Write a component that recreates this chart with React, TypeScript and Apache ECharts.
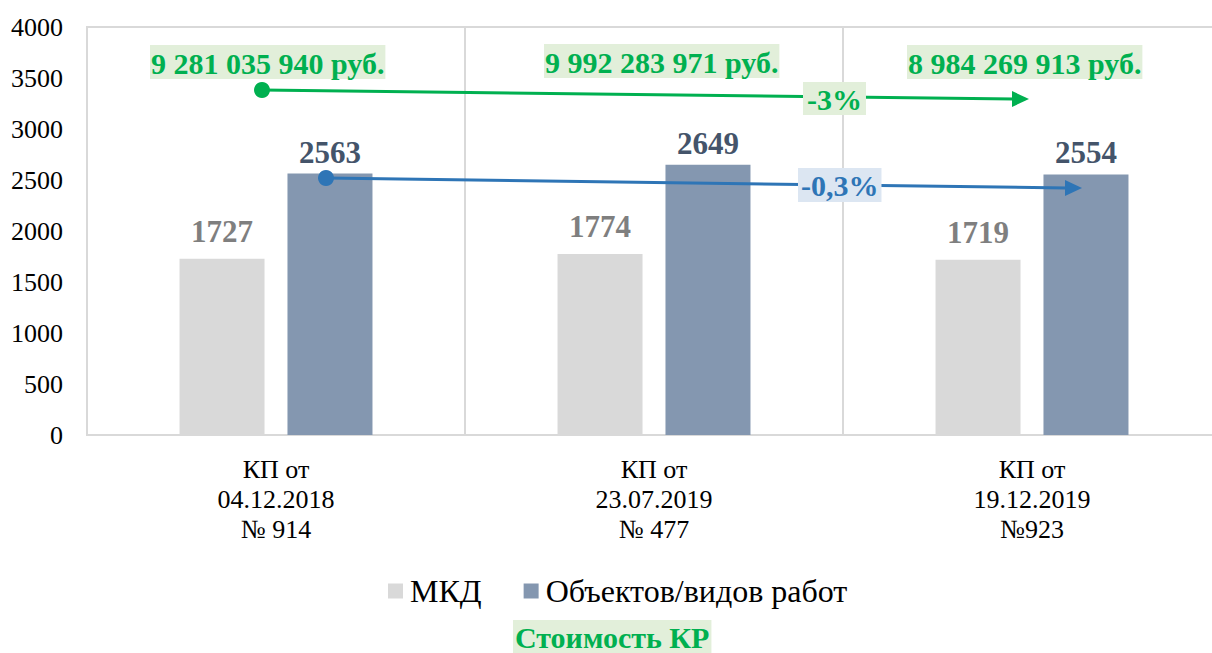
import React, { useEffect, useRef } from "react";
import * as echarts from "echarts";

const categories = ["КП от\n04.12.2018\n№ 914", "КП от\n23.07.2019\n№ 477", "КП от\n19.12.2019\n№923"];
const mkdValues = [1727, 1774, 1719];
const objValues = [2563, 2649, 2554];
const costLabels = ["9 281 035 940 руб.", "9 992 283 971 руб.", "8 984 269 913 руб."];
const costChange = "-3%";
const objChange = "-0,3%";
const seriesNames = ["МКД", "Объектов/видов работ"];
const chartTitle = "Стоимость КР";

const FONT = "Liberation Serif";
const GREEN = "#00b050";
const GREEN_BG = "#e2efda";
const BLUE = "#2e75b6";
const BLUE_BG = "#dce6f2";

export default function App() {
  const ref = useRef<HTMLDivElement>(null);
  useEffect(() => {
    if (!ref.current) return;
    const chart = echarts.init(ref.current, null, { renderer: "svg" });
    const costPos = [
      [150, 45],
      [544, 44],
      [907, 45],
    ];
    const txt = (text: string, fill: string, bg: string, padding: number[]) => ({
      text,
      fill,
      fontFamily: FONT,
      fontWeight: "bold",
      fontSize: 30,
      backgroundColor: bg,
      padding,
      lineHeight: 32,
    });
    const graphics: any[] = [];
    costLabels.forEach((t, i) => {
      graphics.push({
        type: "text",
        x: costPos[i][0],
        y: costPos[i][1],
        z: 120,
        style: txt(t, GREEN, GREEN_BG, [2, 1, 0, 1]),
      });
    });
    // green arrow
    graphics.push(
      { type: "line", z: 100, shape: { x1: 262, y1: 90, x2: 1014, y2: 99 }, style: { stroke: GREEN, lineWidth: 3 } },
      { type: "polygon", z: 100, shape: { points: [[1012, 91], [1029, 99], [1012, 107]] }, style: { fill: GREEN } },
      { type: "circle", z: 100, shape: { cx: 262, cy: 90, r: 8 }, style: { fill: GREEN } },
      { type: "text", z: 120, x: 803, y: 82, style: txt(costChange, GREEN, GREEN_BG, [1, 4, 0, 4]) }
    );
    // blue arrow
    graphics.push(
      { type: "line", z: 100, shape: { x1: 326, y1: 178, x2: 1067, y2: 188 }, style: { stroke: BLUE, lineWidth: 3 } },
      { type: "polygon", z: 100, shape: { points: [[1065, 180], [1082, 188], [1065, 196]] }, style: { fill: BLUE } },
      { type: "circle", z: 100, shape: { cx: 326, cy: 178, r: 8 }, style: { fill: BLUE } },
      { type: "text", z: 120, x: 798, y: 168, style: txt(objChange, BLUE, BLUE_BG, [1, 3, 1, 3]) }
    );
    graphics.push({
      type: "text",
      z: 120,
      x: 513,
      y: 620,
      style: txt(chartTitle, GREEN, GREEN_BG, [1, 2, 2, 2]),
    });

    chart.setOption({
      animation: false,
      grid: {
        left: 87,
        top: 27,
        width: 1134,
        height: 408,
        show: true,
        borderColor: "#d9d9d9",
        borderWidth: 2,
        containLabel: false,
        outerBoundsMode: "none",
      },
      legend: {
        data: seriesNames,
        left: 383,
        top: 570,
        padding: 5,
        itemWidth: 15,
        itemHeight: 15,
        itemGap: 42,
        icon: "rect",
        textStyle: { fontFamily: FONT, fontSize: 32, color: "#000", padding: [0, 0, 0, 2] },
      },
      xAxis: {
        type: "category",
        data: categories,
        axisLine: { show: true, lineStyle: { color: "#d9d9d9", width: 2 } },
        axisTick: { show: false },
        splitLine: { show: true, lineStyle: { color: "#d9d9d9", width: 2 } },
        axisLabel: { fontFamily: FONT, fontSize: 26, color: "#000", lineHeight: 30, margin: 19 },
      },
      yAxis: {
        type: "value",
        min: 0,
        max: 4000,
        interval: 500,
        axisLine: { show: false },
        axisTick: { show: false },
        splitLine: { show: false },
        axisLabel: {
          fontFamily: FONT,
          fontSize: 26,
          color: "#000",
          margin: 24,
          formatter: (v: number) => String(v),
        },
      },
      series: [
        {
          name: seriesNames[0],
          type: "bar",
          data: mkdValues,
          barWidth: 85,
          barGap: "27%",
          itemStyle: { color: "#d9d9d9" },
          label: {
            show: true,
            position: "top",
            distance: 12,
            fontFamily: FONT,
            fontWeight: "bold",
            fontSize: 31,
            color: "#7f7f7f",
          },
        },
        {
          name: seriesNames[1],
          type: "bar",
          data: objValues,
          barWidth: 85,
          itemStyle: { color: "#8497b0" },
          label: {
            show: true,
            position: "top",
            distance: 6,
            fontFamily: FONT,
            fontWeight: "bold",
            fontSize: 31,
            color: "#44546a",
          },
        },
      ],
      graphic: graphics,
    });
    return () => chart.dispose();
  }, []);
  return (
    <div
      ref={ref}
      style={{ position: "absolute", left: 0, top: 0, width: 1212, height: 653, background: "#fff" }}
    />
  );
}
